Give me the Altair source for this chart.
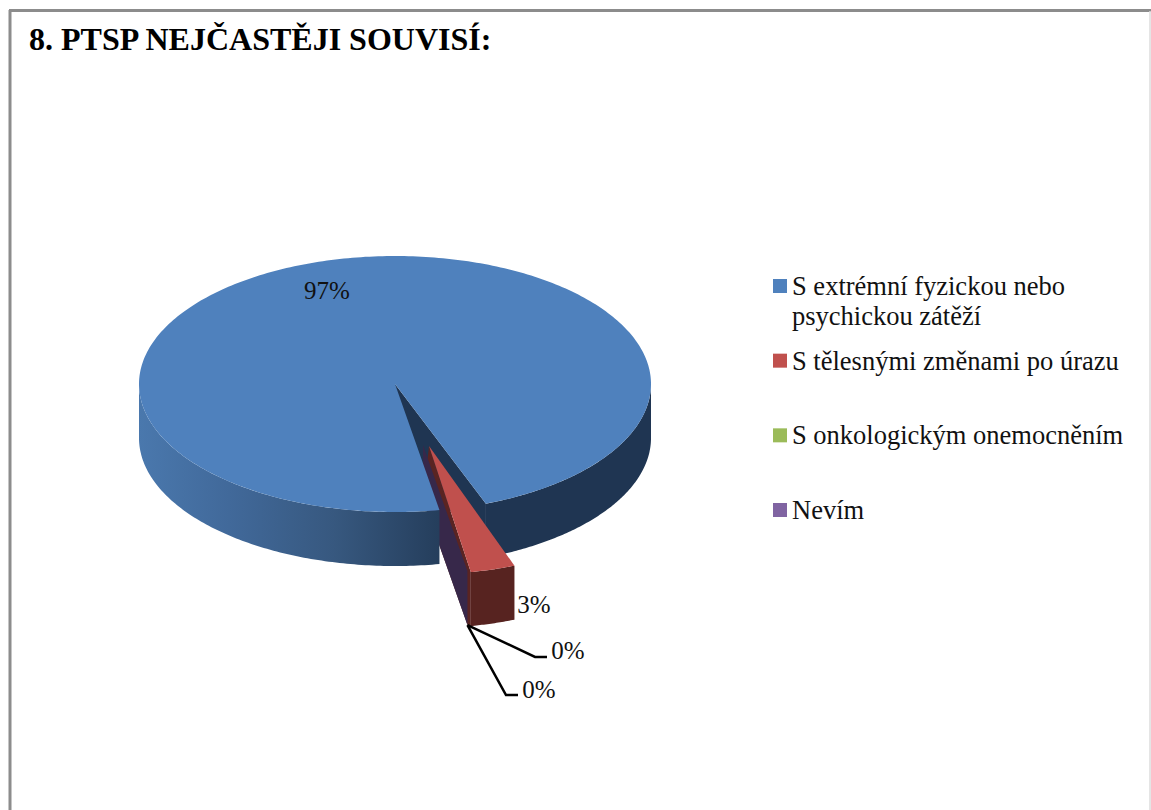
import math

import altair as alt
import pandas as pd

# Survey results
categories = [
    "S extrémní fyzickou nebo|psychickou zátěží",
    "S tělesnými změnami po úrazu",
    "S onkologickým onemocněním",
    "Nevím",
]
shares = [97, 3, 0, 0]
colors = ["#4f81bd", "#c0504d", "#9bbb59", "#8064a2"]
title_text = "8. PTSP NEJČASTĚJI SOUVISÍ:"

# Canvas and pie projection: unit circle squashed into an ellipse with a rim below it
W, H = 1151, 810
CX, CY, RX, RY = 395, 384, 256, 128
DEPTH = 54 / RY
START = 170.0  # first slice starts here, degrees clockwise from twelve o'clock
RED_SHIFT = (34 / RX, -62 / RY)
RED_RADIUS = (0.94, 1.0)
ZERO_SHIFT = (28 / RX, -61 / RY)

x_scale = alt.Scale(domain=[-CX / RX, (W - CX) / RX], range=[0, W], nice=False, zero=False)
y_scale = alt.Scale(domain=[CY / RY, (CY - H) / RY], range=[0, H], nice=False, zero=False)
FONT = "Liberation Serif"


def rim(a, b, radius=(1.0, 1.0), shift=(0.0, 0.0), drop=0.0, steps=120):
    pts = []
    for k in range(steps + 1):
        t = math.radians(a + (b - a) * k / steps)
        pts.append((shift[0] + radius[0] * math.sin(t), shift[1] + radius[1] * math.cos(t) - drop))
    return pts


def polygon(points, fill):
    rows = [{"u": u, "v": v, "i": i} for i, (u, v) in enumerate(points + points[:1])]
    return (
        alt.Chart(pd.DataFrame(rows))
        .mark_line(fill=fill, stroke=None, strokeWidth=0, interpolate="linear", clip=False)
        .encode(
            x=alt.X("u:Q", scale=x_scale, axis=None),
            y=alt.Y("v:Q", scale=y_scale, axis=None),
            order="i:O",
        )
    )


def band(a, b, fill):
    top = rim(a, b)
    low = rim(a, b, drop=DEPTH)
    return polygon(top + low[::-1], fill)


# Slice boundaries follow from the shares
blue_end = START + shares[0] * 3.6
red_start = blue_end - 360
red_end = red_start + shares[1] * 3.6

shade = alt.Gradient(
    gradient="linear",
    x1=1, x2=0, y1=0, y2=0,
    stops=[
        alt.GradientStop(offset=0, color="#253e5c"),
        alt.GradientStop(offset=0.35, color="#37587f"),
        alt.GradientStop(offset=0.7, color="#41699a"),
        alt.GradientStop(offset=1, color="#4a78ad"),
    ],
)

# Rear-most faces first: right rim and exposed wall of the large slice
layers = [band(90, blue_end - 360, "#1f3552")]
center, center_low = (0.0, 0.0), (0.0, -DEPTH)
rim_pt = rim(red_start, red_start, steps=1)[0]
layers.append(polygon([center, rim_pt, (rim_pt[0], rim_pt[1] - DEPTH), center_low], "#1f3552"))

# Cut faces of the exploded slices
ro = rim(red_end, red_end, RED_RADIUS, RED_SHIFT, steps=1)[0]
zo = rim(red_end, red_end, (1.0, 1.0), ZERO_SHIFT, steps=1)[0]
layers.append(polygon([
    RED_SHIFT, ro, (ro[0], ro[1] - DEPTH), (zo[0], zo[1] - DEPTH),
    (ZERO_SHIFT[0], ZERO_SHIFT[1] - DEPTH),
], "#5a2422"))
layers.append(polygon([
    ZERO_SHIFT, zo, (zo[0], zo[1] - DEPTH), (ZERO_SHIFT[0], ZERO_SHIFT[1] - DEPTH),
], "#37284a"))

# Large slice: shaded rim, then the top face
layers.append(band(START, 270, shade))
layers.append(polygon([center] + rim(START, blue_end, steps=360), colors[0]))

# Exploded slice: outer rim, then the top face
top_arc = rim(red_start, red_end, RED_RADIUS, RED_SHIFT, steps=24)
low_arc = rim(red_start, red_end, RED_RADIUS, RED_SHIFT, drop=DEPTH, steps=24)
layers.append(polygon(top_arc + low_arc[::-1], "#572320"))
layers.append(polygon([RED_SHIFT] + top_arc, colors[1]))


def px(x, y):
    return (x - CX) / RX, (CY - y) / RY


# Leader lines running from the zero slices to their labels
tip = (zo[0], zo[1] - DEPTH)
for elbow, end in [(px(535, 657), px(547, 657)), (px(506, 695), px(518, 695))]:
    leader = pd.DataFrame(
        [{"u": p[0], "v": p[1], "i": i} for i, p in enumerate([tip, elbow, end])]
    )
    layers.append(
        alt.Chart(leader)
        .mark_line(color="black", strokeWidth=2.5, interpolate="linear")
        .encode(
            x=alt.X("u:Q", scale=x_scale, axis=None),
            y=alt.Y("v:Q", scale=y_scale, axis=None),
            order="i:O",
        )
    )

# Percentage labels
for value, (lx, ly) in zip(shares, [(327, 291), (534, 605), (568, 651), (539, 690)]):
    layers.append(
        alt.Chart(pd.DataFrame({"t": [f"{value}%"]}))
        .mark_text(font=FONT, fontSize=25, color="#111111", align="center", baseline="middle")
        .encode(x=alt.value(lx), y=alt.value(ly), text="t:N")
    )

# Key on the right
key = pd.DataFrame({"category": categories})
key_y = alt.Y(
    "category:N",
    sort=categories,
    axis=None,
    scale=alt.Scale(type="point", domain=categories, range=[286, 510], padding=0),
)
key_marks = alt.Chart(key).mark_square(size=196, opacity=1, filled=True).encode(
    x=alt.value(780),
    y=key_y,
    color=alt.Color(
        "category:N",
        scale=alt.Scale(domain=categories, range=colors),
        legend=None,
    ),
)
key_text = alt.Chart(key).mark_text(
    font=FONT, fontSize=26.5, color="#111111", align="left", baseline="alphabetic",
    dy=9, lineBreak="|", lineHeight=30,
).encode(x=alt.value(792), y=key_y, text="category:N")

# Page frame
frame = [
    alt.Chart(pd.DataFrame({"a": [0]})).mark_rule(color="#8c8c8c", strokeWidth=3).encode(
        x=alt.value(10), y=alt.value(10), y2=alt.value(H)
    ),
    alt.Chart(pd.DataFrame({"a": [0]})).mark_rule(color="#8c8c8c", strokeWidth=3).encode(
        x=alt.value(9), x2=alt.value(W), y=alt.value(10.5)
    ),
    alt.Chart(pd.DataFrame({"a": [0]})).mark_rule(color="#dddddd", strokeWidth=1.5).encode(
        x=alt.value(1150), y=alt.value(11), y2=alt.value(H)
    ),
]

pie = alt.layer(*layers)
chart = (
    alt.layer(*frame, pie, alt.layer(key_marks, key_text).resolve_scale(y="shared"))
    .resolve_scale(y="independent")
    .properties(
        width=W,
        height=H,
        padding=0,
        autosize=alt.AutoSizeParams(type="none"),
        background="white",
        title=alt.TitleParams(
            title_text,
            anchor="start",
            frame="group",
            font=FONT,
            fontSize=32,
            fontWeight="bold",
            color="black",
            baseline="alphabetic",
            offset=0,
            dx=29,
            dy=82,
        ),
    )
    .configure_view(stroke=None)
)

chart.save("out.html", embed_options={"renderer": "svg", "actions": False})
